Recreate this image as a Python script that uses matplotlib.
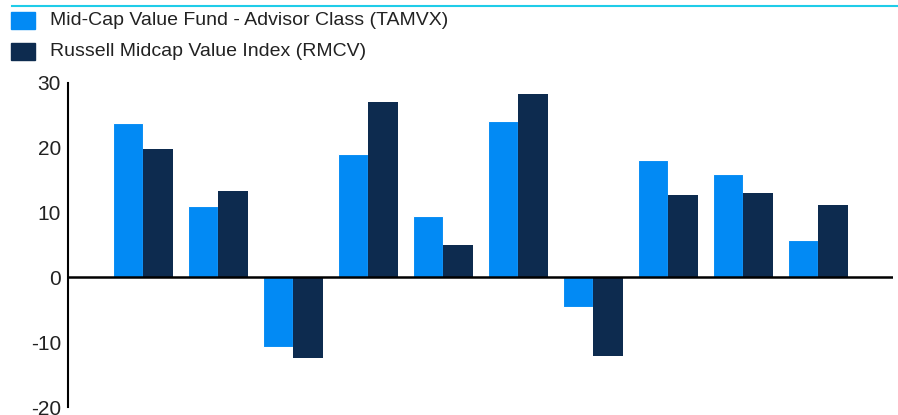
import numpy as np
import matplotlib.pyplot as plt
from matplotlib.lines import Line2D
from matplotlib.patches import Rectangle

plt.rcParams['font.family'] = ['Liberation Sans', 'DejaVu Sans']

# Data
fund_label = "Mid-Cap Value Fund - Advisor Class (TAMVX)"
index_label = "Russell Midcap Value Index (RMCV)"
fund = [23.8, 11.0, -10.7, 19.0, 9.5, 24.1, -4.5, 18.1, 16.0, 5.8]
bench = [19.8, 13.3, -12.4, 27.1, 5.0, 28.3, -12.1, 12.7, 13.0, 11.2]
yticks = [-20, -10, 0, 10, 20, 30]

light = "#028AF4"
dark = "#0D2B4F"
text_color = "#222222"

W, H = 898, 415
fig = plt.figure(figsize=(W / 100, H / 100), dpi=100)
ax = fig.add_axes([68 / W, 8 / H, 825 / W, 324 / H])

x = np.arange(len(fund))
ax.bar(x - 0.2, fund, width=0.4, color=light, edgecolor="white", linewidth=0.8)
ax.bar(x + 0.2, bench, width=0.4, color=dark, edgecolor="none")

ax.set_xlim(-1, len(fund))
ax.set_ylim(-20, 30)
ax.set_yticks(yticks)
ax.set_yticklabels([str(t) for t in yticks], fontsize=15, color=text_color)
ax.tick_params(axis="y", length=0, pad=5)
ax.set_xticks([])
ax.axhline(0, color="black", linewidth=1.8, zorder=3)

for s in ["top", "right", "bottom"]:
    ax.spines[s].set_visible(False)
ax.spines["left"].set_linewidth(1.5)
ax.spines["left"].set_color("black")

# cyan rule at the top
fig.add_artist(Line2D([12 / W, 1.0], [1 - 6 / H, 1 - 6 / H], color="#1FCCE8", linewidth=1.5))

# legend drawn by hand: square + label per series
for i, (lab, col) in enumerate([(fund_label, light), (index_label, dark)]):
    yc = 20.5 + 31 * i
    fig.add_artist(Rectangle((11 / W, 1 - (yc + 8.5) / H), 24 / W, 17 / H,
                             transform=fig.transFigure, color=col))
    fig.text(50 / W, 1 - yc / H, lab, fontsize=14, color=text_color, va="center", ha="left")

fig.savefig("out.png", dpi=100)
